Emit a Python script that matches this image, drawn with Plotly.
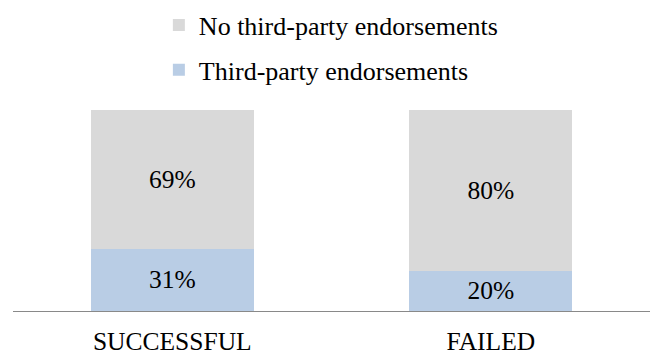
import plotly.graph_objects as go

# Share of projects with and without third-party endorsements
categories = ["SUCCESSFUL", "FAILED"]
third_party = [31, 20]
no_third_party = [69, 80]

series_names = ["Third-party endorsements", "No third-party endorsements"]
series_colors = ["#B9CDE5", "#D9D9D9"]
legend_ranks = [2, 1]

FONT = "'Liberation Serif', 'Times New Roman', Tinos, serif"

fig = go.Figure()
for name, values, color, rank in zip(series_names, [third_party, no_third_party],
                                     series_colors, legend_ranks):
    fig.add_trace(go.Bar(
        x=categories,
        y=values,
        name=name,
        legendgroup=name,
        legendrank=rank,
        marker=dict(color=color, line=dict(width=0)),
        texttemplate="%{y}%",
        textposition="inside",
        insidetextanchor="middle",
        constraintext="none",
        textfont=dict(family=FONT, size=25.5, color="#000000"),
        hoverinfo="skip",
    ))

fig.update_layout(
    width=652,
    height=358,
    margin=dict(l=13, r=2, t=110, b=47),
    paper_bgcolor="white",
    plot_bgcolor="white",
    barmode="stack",
    bargap=0.488,
    font=dict(family=FONT, color="#000000"),
    showlegend=True,
    legend=dict(
        x=0.229,
        xanchor="left",
        y=1.539,
        yanchor="top",
        traceorder="grouped",
        tracegroupgap=8,
        font=dict(family=FONT, size=26, color="#000000"),
        bgcolor="rgba(0,0,0,0)",
        borderwidth=0,
    ),
    xaxis=dict(
        showgrid=False,
        zeroline=False,
        showline=True,
        linecolor="#898989",
        linewidth=1,
        ticks="",
        ticklabelstandoff=7,
        tickfont=dict(family=FONT, size=25.5, color="#000000"),
        automargin=False,
    ),
    yaxis=dict(
        range=[0, 100],
        visible=False,
        fixedrange=True,
    ),
)

fig.write_html("out.html")
